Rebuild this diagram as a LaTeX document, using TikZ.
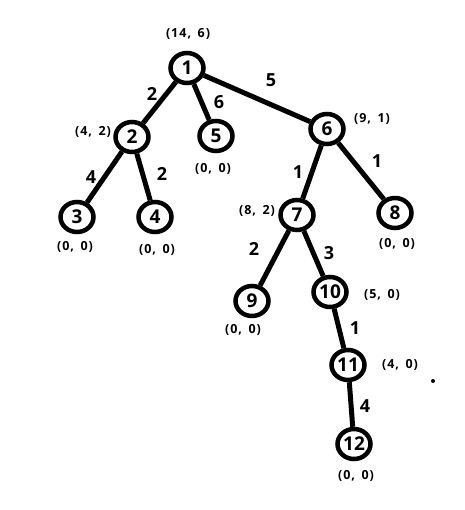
\documentclass[tikz,border=0pt]{standalone}
\usepackage{fontspec}
\setmainfont{Open Sans}
\newfontfamily\pairfont[LetterSpace=8]{Open Sans}
\newcommand{\prlab}[2]{(#1,\hspace{6.5pt}#2)}
\usetikzlibrary{shapes.geometric}
\begin{document}
\begin{tikzpicture}[x=1pt,y=-1pt,
  vtx/.style={ellipse, draw, line width=4.5pt, minimum width=33pt, minimum height=30pt, inner sep=0pt, fill=white, font=\fontsize{19}{19}\selectfont\bfseries},
  wt/.style={font=\fontsize{18}{18}\selectfont\bfseries, inner sep=0pt},
  pair/.style={font=\pairfont\fontsize{12.5}{13}\selectfont\bfseries, inner sep=0pt},
  edgeline/.style={line width=5pt}]
\useasboundingbox[fill=white] (0,0) rectangle (464,510);
% vertices
\node[vtx] (n1) at (187,68) {1};
\node[vtx] (n2) at (132,137) {2};
\node[vtx] (n5) at (216,136) {5};
\node[vtx] (n6) at (327,129) {6};
\node[vtx] (n3) at (77,217) {3};
\node[vtx] (n4) at (155,217) {4};
\node[vtx] (n7) at (297,215) {7};
\node[vtx] (n8) at (395,213) {8};
\node[vtx] (n9) at (252,301) {9};
\node[vtx] (n10) at (330,292) {10};
\node[vtx] (n11) at (348,365) {11};
\node[vtx] (n12) at (354,444) {12};
% edges
\draw[edgeline] (n1) -- (n2);
\draw[edgeline] (n1) -- (n5);
\draw[edgeline] (n1) -- (n6);
\draw[edgeline] (n2) -- (n3);
\draw[edgeline] (n2) -- (n4);
\draw[edgeline] (n6) -- (n7);
\draw[edgeline] (n6) -- (n8);
\draw[edgeline] (n7) -- (n9);
\draw[edgeline] (n7) -- (n10);
\draw[edgeline] (n10) -- (n11);
\draw[edgeline] (n11) -- (n12);
% edge weights
\node[wt] (w12) at (152,94) {2};
\node[wt] (w15) at (219,102) {6};
\node[wt] (w16) at (271,80) {5};
\node[wt] (w23) at (91,177) {4};
\node[wt] (w24) at (162,174) {2};
\node[wt] (w67) at (298,172) {1};
\node[wt] (w68) at (377,161) {1};
\node[wt] (w79) at (254,249) {2};
\node[wt] (w710) at (329,253) {3};
\node[wt] (w1011) at (355,328) {1};
\node[wt] (w1112) at (365,406) {4};
% pair labels
\node[pair] (p1) at (188,34) {\prlab{14}{6}};
\node[pair] (p2) at (93,132) {\prlab{4}{2}};
\node[pair] (p5) at (213,169) {\prlab{0}{0}};
\node[pair] (p6) at (372,119) {\prlab{9}{1}};
\node[pair] (p3) at (75,247) {\prlab{0}{0}};
\node[pair] (p4) at (157,250) {\prlab{0}{0}};
\node[pair] (p7) at (257,211) {\prlab{8}{2}};
\node[pair] (p8) at (397,244) {\prlab{0}{0}};
\node[pair] (p9) at (243,330) {\prlab{0}{0}};
\node[pair] (p10) at (382,295) {\prlab{5}{0}};
\node[pair] (p11) at (400,365) {\prlab{4}{0}};
\node[pair] (p12) at (356,476) {\prlab{0}{0}};
% stray dot
\fill (433,381) circle (2);
\end{tikzpicture}
\end{document}
